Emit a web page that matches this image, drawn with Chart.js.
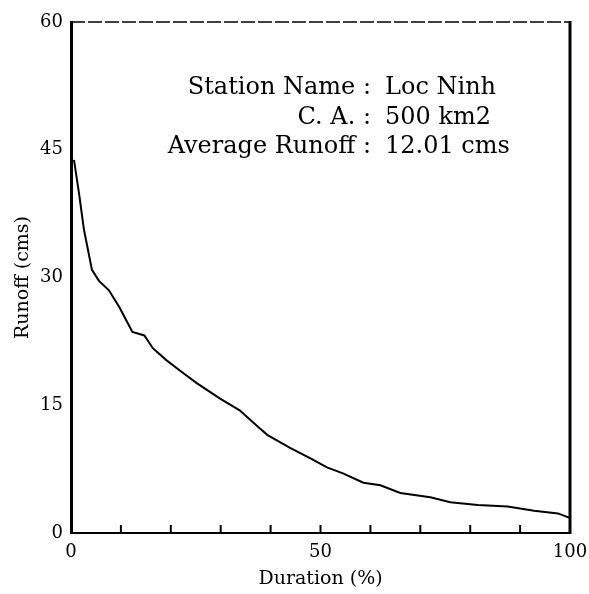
<!DOCTYPE html>
<html>
<head>
<meta charset="utf-8">
<script src="https://cdn.jsdelivr.net/npm/chart.js@4/dist/chart.umd.min.js"></script>
<style>
  html, body { margin: 0; padding: 0; background: #fff; }
  #quadro { width: 589px; height: 594px; }
</style>
</head>
<body>
<div id="quadro"><canvas id="grafico"></canvas></div>
<script>
// curva de permanência
const duracao = [0.6, 1.6, 2.6, 4.2, 5.6, 7.6, 9.7, 12.3, 14.7, 16.4, 19.1, 22.0, 25.2, 29.8, 33.8, 37.8, 39.4, 43.9, 47.9, 51.3, 54.5, 58.6, 62.0, 66.0, 72.0, 76.0, 81.5, 87.5, 92.8, 97.6, 99.8];
const vazao = [43.8, 39.9, 35.6, 30.9, 29.6, 28.5, 26.5, 23.6, 23.2, 21.7, 20.3, 19.0, 17.6, 15.8, 14.4, 12.3, 11.5, 10.0, 8.8, 7.7, 7.0, 5.9, 5.6, 4.7, 4.2, 3.6, 3.3, 3.1, 2.6, 2.3, 1.8];

const rotulosX = [0, 50, 100];
const rotulosY = [0, 15, 30, 45, 60];
const marcasX = [10, 20, 30, 40, 50, 60, 70, 80, 90];

const legendaCampos = ['Station Name :', 'C. A. :', 'Average Runoff :'];
const legendaValores = ['Loc Ninh', '500 km2', '12.01 cms'];

const fonte = "'DejaVu Serif', serif";

// moldura, marcas internas do eixo x e texto da estação
const moldura = {
    id: 'moldura',
    afterDraw(chart) {
        const { ctx, chartArea: a, scales } = chart;
        ctx.save();
        ctx.strokeStyle = '#000';

        // topo tracejado
        ctx.lineWidth = 1.5;
        ctx.setLineDash([14, 3]);
        ctx.beginPath();
        ctx.moveTo(a.left, a.top);
        ctx.lineTo(a.right, a.top);
        ctx.stroke();
        ctx.setLineDash([]);

        // lado direito grosso
        ctx.lineWidth = 3;
        ctx.beginPath();
        ctx.moveTo(a.right, a.top - 1);
        ctx.lineTo(a.right, a.bottom + 1);
        ctx.stroke();

        // marcas para dentro
        ctx.lineWidth = 2;
        marcasX.forEach(v => {
            const px = scales.x.getPixelForValue(v);
            ctx.beginPath();
            ctx.moveTo(px, a.bottom);
            ctx.lineTo(px, a.bottom - 8);
            ctx.stroke();
        });

        // texto
        ctx.fillStyle = '#000';
        ctx.font = `24px ${fonte}`;
        ctx.textBaseline = 'middle';
        const xColon = 371;
        legendaCampos.forEach((t, i) => {
            const y = a.top + 66 + i * 29.5;
            ctx.textAlign = 'right';
            ctx.fillText(t, xColon, y);
            ctx.textAlign = 'left';
            ctx.fillText(legendaValores[i], xColon + 14, y);
        });
        ctx.restore();
    }
};

new Chart(document.getElementById('grafico'), {
    type: 'scatter',
    data: {
        datasets: [{
            data: duracao.map((d, i) => ({ x: d, y: vazao[i] })),
            showLine: true,
            borderColor: '#000',
            borderWidth: 2,
            pointRadius: 0,
            tension: 0
        }]
    },
    options: {
        responsive: true,
        maintainAspectRatio: false,
        animation: false,
        layout: { padding: { top: 22, right: 19, left: 0, bottom: 0 } },
        plugins: { legend: { display: false }, tooltip: { enabled: false } },
        scales: {
            x: {
                type: 'linear',
                min: 0,
                max: 100,
                afterBuildTicks: s => { s.ticks = rotulosX.map(v => ({ value: v })); },
                afterFit: s => { s.height = 61; s.paddingLeft = 0; s.paddingRight = 0; },
                grid: { display: false, drawTicks: false },
                border: { color: '#000', width: 2 },
                ticks: { color: '#000', font: { family: fonte, size: 18 }, padding: 9, maxRotation: 0 },
                title: { display: true, text: 'Duration (%)', color: '#000', font: { family: fonte, size: 19 }, padding: { top: 0 } }
            },
            y: {
                type: 'linear',
                min: 0,
                max: 60,
                afterBuildTicks: s => { s.ticks = rotulosY.map(v => ({ value: v })); },
                afterFit: s => { s.width = 71; s.paddingTop = 0; s.paddingBottom = 0; },
                grid: { display: false, drawTicks: false },
                border: { color: '#000', width: 3 },
                ticks: { color: '#000', font: { family: fonte, size: 18 }, padding: 8 },
                title: { display: true, text: 'Runoff (cms)', color: '#000', font: { family: fonte, size: 19 }, padding: { top: 12, bottom: 0 } }
            }
        }
    },
    plugins: [moldura]
});
</script>
</body>
</html>
